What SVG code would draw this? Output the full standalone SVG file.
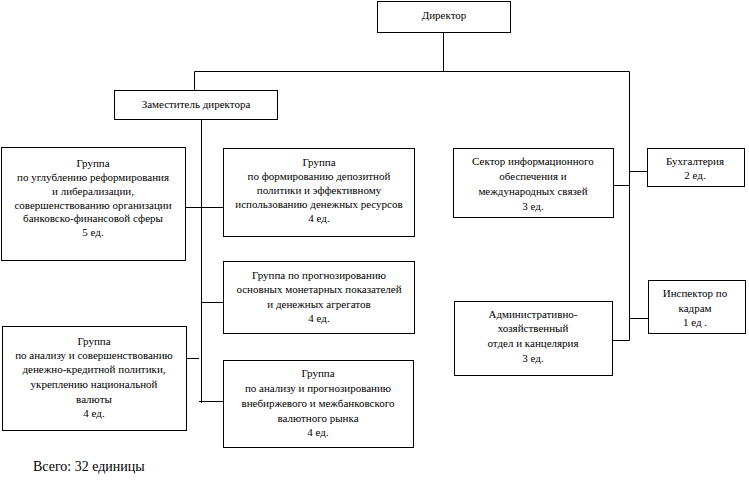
<svg xmlns="http://www.w3.org/2000/svg" width="749" height="497" viewBox="0 0 749 497">
<style>
.b{fill:#fff;stroke:#000;stroke-width:1}
.t{font-family:'Liberation Serif','DejaVu Serif',serif;font-size:11px;fill:#000;text-anchor:middle}
.s{font-family:'Liberation Serif','DejaVu Serif',serif;font-size:14px;fill:#000}
.c{stroke:#000;stroke-width:1;fill:none}
</style>
<rect width="749" height="497" fill="#fff"/>
<g id="connectors">
<path class="c" d="M443.5 32V71.5M194.5 71.5H629.5V340.5M194.5 71.5V90"/>
<path class="c" d="M201.5 119V403M185 207.5H223M201.5 302.5H223M187 358.5H199M199 401.5H223"/>
<path class="c" d="M613 185.5H629.5M629.5 171.5H647M629.5 318.5H648M613 340.5H629.5"/>
</g>
<g id="director"><rect class="b" x="377.5" y="1.5" width="133" height="31"/><text class="t" x="444" y="19">Директор</text></g>
<g id="deputy"><rect class="b" x="114.5" y="90.5" width="163" height="29"/><text class="t" x="196" y="108">Заместитель директора</text></g>
<g id="group1"><rect class="b" x="1.5" y="147.5" width="184" height="113"/>
<text class="t"><tspan x="93" y="167">Группа</tspan><tspan x="93" y="181">по углублению реформирования</tspan><tspan x="93" y="195">и либерализации,</tspan><tspan x="93" y="209">совершенствованию организации</tspan><tspan x="93" y="222">банковско-финансовой сферы</tspan><tspan x="93" y="236">5 ед.</tspan></text></g>
<g id="group2"><rect class="b" x="223.5" y="148.5" width="191" height="88"/>
<text class="t"><tspan x="319" y="166">Группа</tspan><tspan x="319" y="180">по формированию депозитной</tspan><tspan x="319" y="194">политики и эффективному</tspan><tspan x="319" y="208">использованию денежных ресурсов</tspan><tspan x="319" y="222">4 ед.</tspan></text></g>
<g id="group3"><rect class="b" x="223.5" y="261.5" width="191" height="72"/>
<text class="t"><tspan x="319" y="279">Группа по прогнозированию</tspan><tspan x="319" y="293">основных монетарных показателей</tspan><tspan x="319" y="308">и денежных агрегатов</tspan><tspan x="319" y="322">4 ед.</tspan></text></g>
<g id="group4"><rect class="b" x="2.5" y="326.5" width="184" height="104"/>
<text class="t"><tspan x="94" y="345">Группа</tspan><tspan x="94" y="359">по анализу и совершенствованию</tspan><tspan x="94" y="373">денежно-кредитной политики,</tspan><tspan x="94" y="388">укреплению национальной</tspan><tspan x="94" y="403">валюты</tspan><tspan x="94" y="417">4 ед.</tspan></text></g>
<g id="group5"><rect class="b" x="223.5" y="360.5" width="190" height="87"/>
<text class="t"><tspan x="318" y="377">Группа</tspan><tspan x="318" y="392">по анализу и прогнозированию</tspan><tspan x="318" y="407">внебиржевого и межбанковского</tspan><tspan x="318" y="422">валютного рынка</tspan><tspan x="318" y="436">4 ед.</tspan></text></g>
<g id="sector"><rect class="b" x="453.5" y="148.5" width="160" height="69"/>
<text class="t"><tspan x="533" y="165">Сектор информационного</tspan><tspan x="533" y="180">обеспечения и</tspan><tspan x="533" y="195">международных связей</tspan><tspan x="533" y="210">3 ед.</tspan></text></g>
<g id="accounting"><rect class="b" x="647.5" y="148.5" width="97" height="38"/>
<text class="t"><tspan x="695" y="165">Бухгалтерия</tspan><tspan x="695" y="179">2 ед.</tspan></text></g>
<g id="inspector"><rect class="b" x="648.5" y="280.5" width="97" height="53"/>
<text class="t"><tspan x="695" y="297">Инспектор по</tspan><tspan x="695" y="312">кадрам</tspan><tspan x="695" y="326">1 ед .</tspan></text></g>
<g id="admin"><rect class="b" x="454.5" y="301.5" width="158" height="74"/>
<text class="t"><tspan x="533" y="318">Административно-</tspan><tspan x="533" y="332">хозяйственный</tspan><tspan x="533" y="347">отдел и канцелярия</tspan><tspan x="533" y="362">3 ед.</tspan></text></g>
<text class="s" x="33" y="471">Всего: 32 единицы</text>
</svg>
